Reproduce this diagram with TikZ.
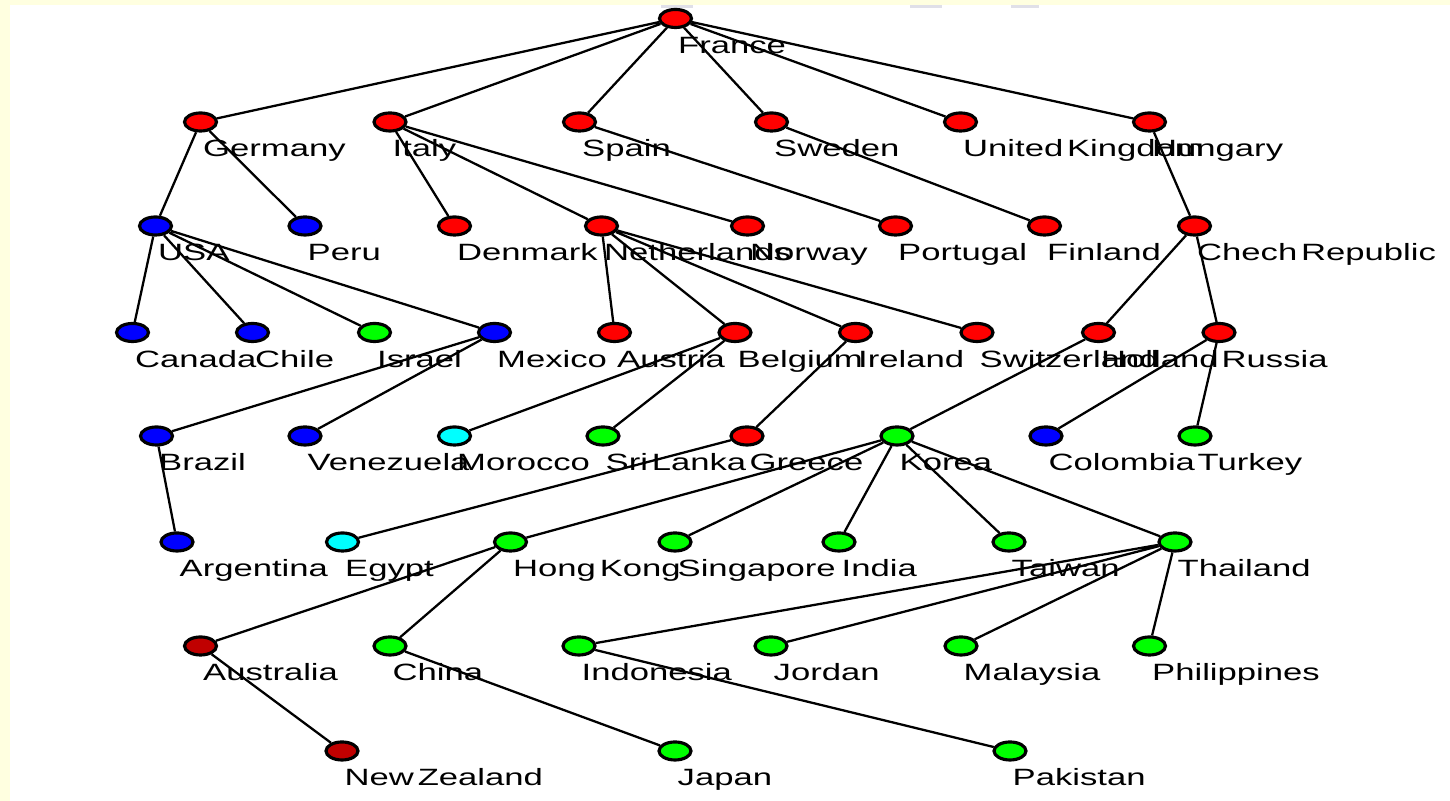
\documentclass[tikz,border=0pt]{standalone}
\usepackage{fontspec}
\usepackage{xcolor}
\usepackage{tikz}
\usetikzlibrary{shapes.geometric}
\newfontfamily\lblfont[FakeStretch=1.47,WordSpace=0.4]{Liberation Sans}
\definecolor{country_red}{HTML}{FF0000}
\definecolor{country_blue}{HTML}{0000FF}
\definecolor{country_green}{HTML}{00FF00}
\definecolor{country_cyan}{HTML}{00FFFF}
\definecolor{country_dark}{HTML}{C00000}
\definecolor{bg_yellow}{HTML}{FFFFE0}
\definecolor{bar_gray}{HTML}{E0E0E8}
\tikzset{
  ctry/.style={ellipse, draw=black, line width=0.9pt, fill=#1, minimum width=0.32cm, minimum height=0.18cm, inner sep=0pt},
  lbl/.style={anchor=base west, inner sep=0pt, xshift=0.02cm, yshift=-0.345cm, font={\lblfont\fontsize{6.7pt}{8pt}\selectfont}},
  link/.style={line width=0.65pt, black}
}

\begin{document}
\begin{tikzpicture}[x=0.01cm, y=-0.01cm]
    % Background
    \fill[bg_yellow] (0,0) rectangle (1450,801);
    \fill[white] (10,5) rectangle (1450,801);
    \fill[bar_gray] (661,5) rectangle (693,8);
    \fill[bar_gray] (910,5) rectangle (942,8);
    \fill[bar_gray] (1011,5) rectangle (1039,8);

    % Row 0 and row 1
    \node[ctry=country_red] (france) at (675.5,18.5) {};
    \node[ctry=country_red] (germany) at (200.5,122) {};
    \node[ctry=country_red] (italy) at (390,122) {};
    \node[ctry=country_red] (spain) at (579.5,122) {};
    \node[ctry=country_red] (sweden) at (771.5,122) {};
    \node[ctry=country_red] (uk) at (960.5,122) {};
    \node[ctry=country_red] (hungary) at (1149.5,122) {};

    % Row 2
    \node[ctry=country_blue] (usa) at (155.5,226) {};
    \node[ctry=country_blue] (peru) at (305,226) {};
    \node[ctry=country_red] (denmark) at (454.5,226) {};
    \node[ctry=country_red] (netherlands) at (601.5,226) {};
    \node[ctry=country_red] (norway) at (747.5,226) {};
    \node[ctry=country_red] (portugal) at (895.5,226) {};
    \node[ctry=country_red] (finland) at (1044.5,226) {};
    \node[ctry=country_red] (chech) at (1194.5,226) {};

    % Row 3
    \node[ctry=country_blue] (canada) at (132.5,332.5) {};
    \node[ctry=country_blue] (chile) at (252.5,332.5) {};
    \node[ctry=country_green] (israel) at (374.5,332.5) {};
    \node[ctry=country_blue] (mexico) at (494.5,332.5) {};
    \node[ctry=country_red] (austria) at (614.5,332.5) {};
    \node[ctry=country_red] (belgium) at (735,332.5) {};
    \node[ctry=country_red] (ireland) at (855.5,332.5) {};
    \node[ctry=country_red] (switzerland) at (977,332.5) {};
    \node[ctry=country_red] (holland) at (1098.5,332.5) {};
    \node[ctry=country_red] (russia) at (1219,332.5) {};

    % Row 4
    \node[ctry=country_blue] (brazil) at (156.5,436) {};
    \node[ctry=country_blue] (venezuela) at (305,436) {};
    \node[ctry=country_cyan] (morocco) at (454.5,436) {};
    \node[ctry=country_green] (srilanka) at (603,436) {};
    \node[ctry=country_red] (greece) at (747,436) {};
    \node[ctry=country_green] (korea) at (897,436) {};
    \node[ctry=country_blue] (colombia) at (1046,436) {};
    \node[ctry=country_green] (turkey) at (1195,436) {};

    % Row 5
    \node[ctry=country_blue] (argentina) at (177,542) {};
    \node[ctry=country_cyan] (egypt) at (342.5,542) {};
    \node[ctry=country_green] (hongkong) at (510.5,542) {};
    \node[ctry=country_green] (singapore) at (675,542) {};
    \node[ctry=country_green] (india) at (839,542) {};
    \node[ctry=country_green] (taiwan) at (1009,542) {};
    \node[ctry=country_green] (thailand) at (1175,542) {};

    % Row 6
    \node[ctry=country_dark] (australia) at (200.5,646) {};
    \node[ctry=country_green] (china) at (390,646) {};
    \node[ctry=country_green] (indonesia) at (579,646) {};
    \node[ctry=country_green] (jordan) at (771,646) {};
    \node[ctry=country_green] (malaysia) at (961,646) {};
    \node[ctry=country_green] (philippines) at (1149.5,646) {};

    % Row 7
    \node[ctry=country_dark] (newzealand) at (342,751) {};
    \node[ctry=country_green] (japan) at (675,751) {};
    \node[ctry=country_green] (pakistan) at (1010,751) {};

    % Names under the dots
    \node[lbl] (france-t) at (france.center) {France};
    \node[lbl] (germany-t) at (germany.center) {Germany};
    \node[lbl] (italy-t) at (italy.center) {Italy};
    \node[lbl] (spain-t) at (spain.center) {Spain};
    \node[lbl] (sweden-t) at (sweden.center) {Sweden};
    \node[lbl] (uk-t) at (uk.center) {United Kingdom};
    \node[lbl] (hungary-t) at (hungary.center) {Hungary};
    \node[lbl] (usa-t) at (usa.center) {USA};
    \node[lbl] (peru-t) at (peru.center) {Peru};
    \node[lbl] (denmark-t) at (denmark.center) {Denmark};
    \node[lbl] (netherlands-t) at (netherlands.center) {Netherlands};
    \node[lbl] (norway-t) at (norway.center) {Norway};
    \node[lbl] (portugal-t) at (portugal.center) {Portugal};
    \node[lbl] (finland-t) at (finland.center) {Finland};
    \node[lbl] (chech-t) at (chech.center) {Chech Republic};
    \node[lbl] (canada-t) at (canada.center) {Canada};
    \node[lbl] (chile-t) at (chile.center) {Chile};
    \node[lbl] (israel-t) at (israel.center) {Israel};
    \node[lbl] (mexico-t) at (mexico.center) {Mexico};
    \node[lbl] (austria-t) at (austria.center) {Austria};
    \node[lbl] (belgium-t) at (belgium.center) {Belgium};
    \node[lbl] (ireland-t) at (ireland.center) {Ireland};
    \node[lbl] (switzerland-t) at (switzerland.center) {Switzerland};
    \node[lbl] (holland-t) at (holland.center) {Holland};
    \node[lbl] (russia-t) at (russia.center) {Russia};
    \node[lbl] (brazil-t) at (brazil.center) {Brazil};
    \node[lbl] (venezuela-t) at (venezuela.center) {Venezuela};
    \node[lbl] (morocco-t) at (morocco.center) {Morocco};
    \node[lbl] (srilanka-t) at (srilanka.center) {Sri Lanka};
    \node[lbl] (greece-t) at (greece.center) {Greece};
    \node[lbl] (korea-t) at (korea.center) {Korea};
    \node[lbl] (colombia-t) at (colombia.center) {Colombia};
    \node[lbl] (turkey-t) at (turkey.center) {Turkey};
    \node[lbl] (argentina-t) at (argentina.center) {Argentina};
    \node[lbl] (egypt-t) at (egypt.center) {Egypt};
    \node[lbl] (hongkong-t) at (hongkong.center) {Hong Kong};
    \node[lbl] (singapore-t) at (singapore.center) {Singapore};
    \node[lbl] (india-t) at (india.center) {India};
    \node[lbl] (taiwan-t) at (taiwan.center) {Taiwan};
    \node[lbl] (thailand-t) at (thailand.center) {Thailand};
    \node[lbl] (australia-t) at (australia.center) {Australia};
    \node[lbl] (china-t) at (china.center) {China};
    \node[lbl] (indonesia-t) at (indonesia.center) {Indonesia};
    \node[lbl] (jordan-t) at (jordan.center) {Jordan};
    \node[lbl] (malaysia-t) at (malaysia.center) {Malaysia};
    \node[lbl] (philippines-t) at (philippines.center) {Philippines};
    \node[lbl] (newzealand-t) at (newzealand.center) {New Zealand};
    \node[lbl] (japan-t) at (japan.center) {Japan};
    \node[lbl] (pakistan-t) at (pakistan.center) {Pakistan};

    % Links
    \draw[link] (france) -- (germany) (france) -- (italy) (france) -- (spain)
      (france) -- (sweden) (france) -- (uk) (france) -- (hungary);
    \draw[link] (germany) -- (usa) (germany) -- (peru);
    \draw[link] (italy) -- (denmark) (italy) -- (netherlands) (italy) -- (norway);
    \draw[link] (spain) -- (portugal);
    \draw[link] (sweden) -- (finland);
    \draw[link] (hungary) -- (chech);
    \draw[link] (usa) -- (canada) (usa) -- (chile) (usa) -- (israel) (usa) -- (mexico);
    \draw[link] (netherlands) -- (austria) (netherlands) -- (belgium)
      (netherlands) -- (ireland) (netherlands) -- (switzerland);
    \draw[link] (chech) -- (holland) (chech) -- (russia);
    \draw[link] (mexico) -- (brazil) (mexico) -- (venezuela);
    \draw[link] (belgium) -- (morocco) (belgium) -- (srilanka);
    \draw[link] (ireland) -- (greece);
    \draw[link] (holland) -- (korea);
    \draw[link] (russia) -- (colombia) (russia) -- (turkey);
    \draw[link] (brazil) -- (argentina);
    \draw[link] (greece) -- (egypt);
    \draw[link] (korea) -- (hongkong) (korea) -- (singapore) (korea) -- (india)
      (korea) -- (taiwan) (korea) -- (thailand);
    \draw[link] (hongkong) -- (australia) (hongkong) -- (china);
    \draw[link] (thailand) -- (indonesia) (thailand) -- (jordan)
      (thailand) -- (malaysia) (thailand) -- (philippines);
    \draw[link] (australia) -- (newzealand);
    \draw[link] (china) -- (japan);
    \draw[link] (indonesia) -- (pakistan);
\end{tikzpicture}
\end{document}
